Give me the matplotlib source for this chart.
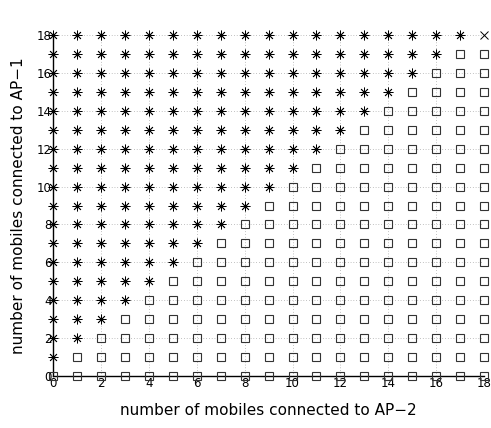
import matplotlib
matplotlib.use('Agg')
import matplotlib.pyplot as plt
import numpy as np

# Grid of mobiles: AP-2 (x) vs AP-1 (y)
ap2_counts = list(range(0, 19))
ap1_counts = list(range(0, 19))

# number of '*' markers at the start of each row (AP-1 = 0..18)
stars_per_row = [0, 1, 2, 3, 4, 5, 6, 7, 8, 9, 10, 11, 12, 13, 14, 15, 16, 17, 18]
# points drawn with 'x'
cross_points = [(18, 18)]

xticks = [0, 2, 4, 6, 8, 10, 12, 14, 16, 18]
yticks = [0, 2, 4, 6, 8, 10, 12, 14, 16, 18]

star_x, star_y, sq_x, sq_y = [], [], [], []
for y, nstar in zip(ap1_counts, stars_per_row):
    for x in ap2_counts:
        if (x, y) in cross_points:
            continue
        if x < nstar:
            star_x.append(x)
            star_y.append(y)
        else:
            sq_x.append(x)
            sq_y.append(y)

fig = plt.figure(figsize=(4.91, 4.28), dpi=100)
ax = fig.add_axes([0.108, 0.1215, 0.878, 0.7965])

ax.plot(star_x, star_y, linestyle='none', marker=(8, 2, 0), markersize=7,
        markeredgewidth=0.6, color='black', clip_on=False, zorder=3)
ax.plot(sq_x, sq_y, linestyle='none', marker='s', markersize=5.5,
        markerfacecolor='none', markeredgewidth=0.8, markeredgecolor='#333333',
        clip_on=False, zorder=3)
ax.plot([p[0] for p in cross_points], [p[1] for p in cross_points],
        linestyle='none', marker='x', markersize=5.5, markeredgewidth=0.7,
        color='black', clip_on=False, zorder=3)

ax.set_xlim(0, 18)
ax.set_ylim(0, 18)
ax.set_xticks(xticks)
ax.set_yticks(yticks)
ax.tick_params(length=0, labelsize=8.5, pad=1)
ax.grid(True, linestyle=(0, (1, 3)), color='#888888', linewidth=0.5)
ax.set_axisbelow(True)

for s in ['top', 'right']:
    ax.spines[s].set_visible(False)
for s in ['left', 'bottom']:
    ax.spines[s].set_linewidth(1.0)
    ax.spines[s].set_zorder(2.5)

ax.set_xlabel('number of mobiles connected to AP\u22122', fontsize=11,
              labelpad=9)
ax.set_ylabel('number of mobiles connected to AP\u22121', fontsize=11,
              labelpad=8)

fig.savefig('out.png', dpi=100)
